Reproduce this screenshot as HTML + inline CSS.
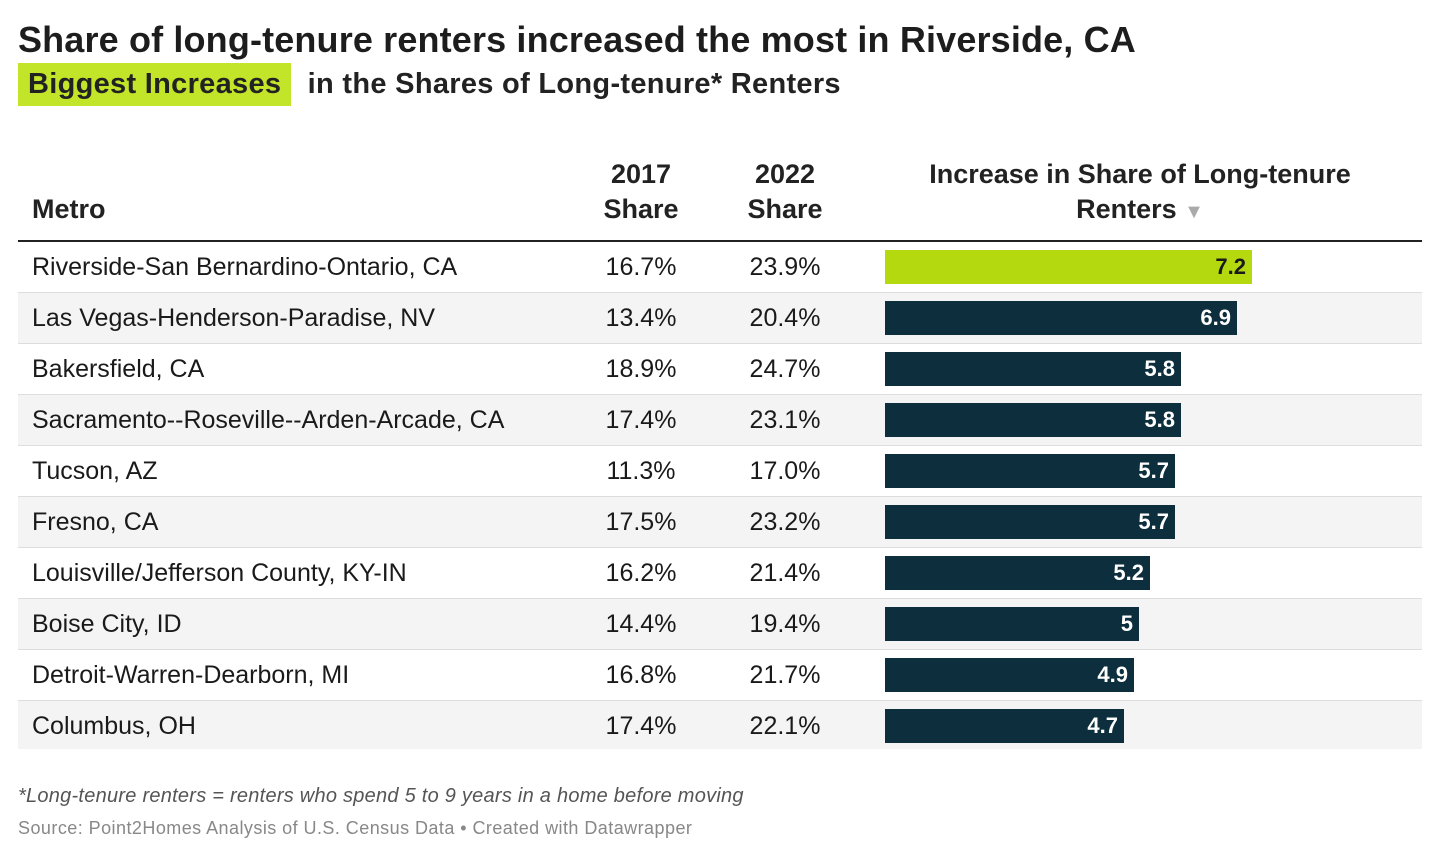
<!DOCTYPE html>
<html><head><meta charset="utf-8"><style>
body{margin:0;width:1440px;height:860px;background:#fff;font-family:"Liberation Sans",Arial,sans-serif;color:#1a1a1a;position:relative;overflow:hidden}
.t{position:absolute;left:18px;top:19px;font-size:36px;font-weight:bold;letter-spacing:0.15px;color:#1d1d1d}
.s{position:absolute;left:18px;top:63px;font-size:29px;font-weight:bold;line-height:43px;color:#222;letter-spacing:0.3px}
.s span{display:inline-block;background:#c2e52a;padding:0 10px;margin-right:8px;line-height:43px}
.h{position:absolute;font-size:27px;font-weight:bold;line-height:35px;color:#222;text-align:center}
.line{position:absolute;left:18px;top:240px;width:1404px;height:2px;background:#222}
.row{position:absolute;left:18px;width:1404px;height:50px;border-bottom:1px solid #ddd;font-size:25px}
.row.g{background:#f4f4f4}
.row div{position:absolute;top:0;line-height:50px}
.m{left:14px}
.a{left:573px;width:100px;text-align:center}
.b{left:717px;width:100px;text-align:center}
.bar{position:absolute;left:867px;top:8px!important;height:34px;line-height:34px!important;background:#0c2e3d;color:#fff;font-weight:bold;font-size:22px;text-align:right;box-sizing:border-box;padding-right:6px}
.f{position:absolute;left:18px;top:785px;font-size:20px;font-style:italic;color:#555;letter-spacing:0.25px}
.src{position:absolute;left:18px;top:818px;font-size:18px;color:#888;letter-spacing:0.45px}
</style></head><body>
<div class="t">Share of long-tenure renters increased the most in Riverside, CA</div>
<div class="s"><span>Biggest Increases</span> in the Shares of Long-tenure* Renters</div>
<div class="h" style="left:32px;top:192px;text-align:left">Metro</div>
<div class="h" style="left:591px;top:157px;width:100px">2017<br>Share</div>
<div class="h" style="left:735px;top:157px;width:100px">2022<br>Share</div>
<div class="h" style="left:890px;top:157px;width:500px">Increase in Share of Long-tenure<br>Renters <span style="color:#aaa;font-size:20px">▼</span></div>
<div class="line"></div>
<div class="row" style="top:242px"><div class="m">Riverside-San Bernardino-Ontario, CA</div><div class="a">16.7%</div><div class="b">23.9%</div><div class="bar" style="width:367px;background:#b5d90f;color:#1a1a1a">7.2</div></div>
<div class="row g" style="top:293px"><div class="m">Las Vegas-Henderson-Paradise, NV</div><div class="a">13.4%</div><div class="b">20.4%</div><div class="bar" style="width:352px">6.9</div></div>
<div class="row" style="top:344px"><div class="m">Bakersfield, CA</div><div class="a">18.9%</div><div class="b">24.7%</div><div class="bar" style="width:296px">5.8</div></div>
<div class="row g" style="top:395px"><div class="m">Sacramento--Roseville--Arden-Arcade, CA</div><div class="a">17.4%</div><div class="b">23.1%</div><div class="bar" style="width:296px">5.8</div></div>
<div class="row" style="top:446px"><div class="m">Tucson, AZ</div><div class="a">11.3%</div><div class="b">17.0%</div><div class="bar" style="width:290px">5.7</div></div>
<div class="row g" style="top:497px"><div class="m">Fresno, CA</div><div class="a">17.5%</div><div class="b">23.2%</div><div class="bar" style="width:290px">5.7</div></div>
<div class="row" style="top:548px"><div class="m">Louisville/Jefferson County, KY-IN</div><div class="a">16.2%</div><div class="b">21.4%</div><div class="bar" style="width:265px">5.2</div></div>
<div class="row g" style="top:599px"><div class="m">Boise City, ID</div><div class="a">14.4%</div><div class="b">19.4%</div><div class="bar" style="width:254px">5</div></div>
<div class="row" style="top:650px"><div class="m">Detroit-Warren-Dearborn, MI</div><div class="a">16.8%</div><div class="b">21.7%</div><div class="bar" style="width:249px">4.9</div></div>
<div class="row g" style="top:701px;border-bottom:none;height:48px"><div class="m">Columbus, OH</div><div class="a">17.4%</div><div class="b">22.1%</div><div class="bar" style="width:239px">4.7</div></div>
<div class="f">*Long-tenure renters = renters who spend 5 to 9 years in a home before moving</div>
<div class="src">Source: Point2Homes Analysis of U.S. Census Data • Created with Datawrapper</div>
</body></html>
